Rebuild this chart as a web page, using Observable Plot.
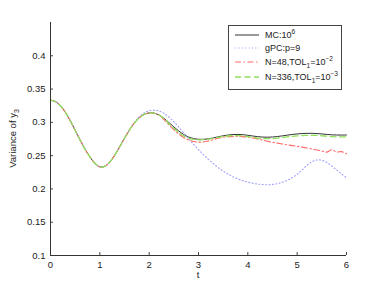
<!DOCTYPE html>
<html><head><meta charset="utf-8">
<script src="https://cdn.jsdelivr.net/npm/d3@7"></script>
<script src="https://cdn.jsdelivr.net/npm/@observablehq/plot@0.6"></script>
<style>body{margin:0;background:#fff} #chart svg{font-family:"Liberation Sans",Arial,sans-serif;overflow:visible}</style>
</head><body><div id="chart"></div>
<script>
const tValues = [0,0.1,0.2,0.3,0.4,0.5,0.6,0.7,0.8,0.9,1,1.1,1.2,1.3,1.4,1.5,1.6,1.7,1.8,1.9,2,2.1,2.2,2.3,2.4,2.5,2.6,2.7,2.8,2.9,3,3.1,3.2,3.3,3.4,3.5,3.6,3.7,3.8,3.9,4,4.1,4.2,4.3,4.4,4.5,4.6,4.7,4.8,4.9,5,5.1,5.2,5.3,5.4,5.5,5.6,5.7,5.8,5.9,6];
const mcValues = [0.3333,0.3312,0.3250,0.3152,0.3025,0.2882,0.2735,0.2598,0.2480,0.2385,0.2332,0.2340,0.2402,0.2505,0.2630,0.2762,0.2885,0.2990,0.3070,0.3120,0.3142,0.3138,0.3110,0.3060,0.2998,0.2932,0.2870,0.2818,0.2780,0.2757,0.2746,0.2745,0.2752,0.2766,0.2783,0.2798,0.2810,0.2817,0.2819,0.2815,0.2806,0.2795,0.2785,0.2779,0.2777,0.2780,0.2787,0.2797,0.2808,0.2818,0.2826,0.2832,0.2835,0.2835,0.2832,0.2826,0.2819,0.2813,0.2810,0.2809,0.2810];
const gpcValues = [0.3333,0.3312,0.3250,0.3152,0.3025,0.2882,0.2735,0.2598,0.2480,0.2385,0.2332,0.2340,0.2402,0.2505,0.2630,0.2762,0.2885,0.2995,0.3085,0.3142,0.3175,0.3183,0.3170,0.3135,0.3080,0.3008,0.2928,0.2842,0.2755,0.2670,0.2590,0.2515,0.2445,0.2380,0.2320,0.2268,0.2222,0.2182,0.2150,0.2123,0.2102,0.2085,0.2073,0.2066,0.2063,0.2068,0.2080,0.2100,0.2130,0.2170,0.2220,0.2285,0.2355,0.2408,0.2435,0.2430,0.2398,0.2345,0.2285,0.2225,0.2168];
const n48Values = [0.3333,0.3312,0.3250,0.3152,0.3025,0.2882,0.2735,0.2598,0.2480,0.2385,0.2332,0.2340,0.2402,0.2505,0.2630,0.2762,0.2885,0.2990,0.3070,0.3120,0.3142,0.3138,0.3110,0.3040,0.2965,0.2890,0.2825,0.2772,0.2735,0.2712,0.2703,0.2706,0.2720,0.2740,0.2760,0.2775,0.2785,0.2790,0.2790,0.2786,0.2778,0.2765,0.2750,0.2733,0.2716,0.2701,0.2688,0.2675,0.2663,0.2651,0.2640,0.2628,0.2615,0.2600,0.2585,0.2570,0.2553,0.2588,0.2555,0.2560,0.2528];
const n336Values = [0.3333,0.3312,0.3250,0.3152,0.3025,0.2882,0.2735,0.2598,0.2480,0.2385,0.2332,0.2340,0.2402,0.2505,0.2630,0.2762,0.2885,0.2990,0.3070,0.3120,0.3142,0.3138,0.3110,0.3060,0.2980,0.2910,0.2848,0.2798,0.2763,0.2745,0.2738,0.2740,0.2748,0.2760,0.2774,0.2786,0.2795,0.2800,0.2800,0.2795,0.2786,0.2774,0.2764,0.2757,0.2755,0.2757,0.2763,0.2772,0.2781,0.2790,0.2797,0.2802,0.2805,0.2805,0.2803,0.2798,0.2792,0.2787,0.2783,0.2782,0.2782];
const xTicks = [0,1,2,3,4,5,6];
const yTicks = [0.1,0.15,0.2,0.25,0.3,0.35,0.4];
const seriesNames = ["MC", "gPC", "N48", "N336"];

const seriesStyles = {
  MC:   {stroke: "#333333", dash: null,      width: 1},
  gPC:  {stroke: "#9d9dff", dash: "1,2.4",   width: 1.1},
  N48:  {stroke: "#ff6a6a", dash: "6,2.5,1.5,2.5", width: 1.1},
  N336: {stroke: "#8fe05a", dash: "6,3.5",   width: 1.3}
};
const seriesData = {MC: mcValues, gPC: gpcValues, N48: n48Values, N336: n336Values};
const rows = s => tValues.map((t, i) => ({t, v: seriesData[s][i]}));

const lineMarks = seriesNames.map(s => Plot.line(rows(s), {
  x: "t", y: "v", curve: "catmull-rom",
  stroke: seriesStyles[s].stroke, strokeWidth: seriesStyles[s].width,
  strokeDasharray: seriesStyles[s].dash
}));

const plot = Plot.plot({
  width: 382, height: 287,
  marginLeft: 50, marginRight: 36, marginTop: 22, marginBottom: 32,
  style: {fontSize: "9.5px", color: "#222", background: "#fff"},
  x: {domain: [0, 6], label: null},
  y: {domain: [0.1, 0.45], label: null},
  marks: [
    ...lineMarks,
    Plot.axisX(xTicks, {tickSize: -3, text: null, stroke: "#444"}),
    Plot.axisX(xTicks, {tickSize: 0, tickPadding: 6, tickFormat: d => String(d)}),
    Plot.axisY(yTicks, {tickSize: -3, text: null, stroke: "#444"}),
    Plot.axisY(yTicks, {tickSize: 0, tickPadding: 5, tickFormat: d => String(d)}),
    Plot.ruleY([0.1], {stroke: "#333"}),
    Plot.ruleX([0], {stroke: "#333"})
  ]
});
document.getElementById("chart").appendChild(plot);

const svg = d3.select(plot);
const sx = plot.scale("x"), sy = plot.scale("y");
// x label
svg.append("text").attr("x", (sx.apply(0) + sx.apply(6)) / 2).attr("y", 278)
  .attr("text-anchor", "middle").attr("font-size", 9.5).attr("fill", "#222").text("t");
// y label
const yl = svg.append("text")
  .attr("transform", `translate(16,${(sy.apply(0.1) + sy.apply(0.45)) / 2}) rotate(-90)`)
  .attr("text-anchor", "middle").attr("font-size", 9.5).attr("fill", "#222");
yl.append("tspan").text("Variance of y");
yl.append("tspan").attr("font-size", 7).attr("dy", 2.5).text("3");

// legend
const lg = svg.append("g").attr("text-anchor", "start");
lg.append("rect").attr("x", 228.5).attr("y", 25.5).attr("width", 113).attr("height", 64)
  .attr("fill", "#fff").attr("stroke", "#444").attr("stroke-width", 1);
const legendRows = [
  {s: "MC", y: 35, parts: [["MC:10", 0], ["6", -1]]},
  {s: "gPC", y: 48, parts: [["gPC:p=9", 0]]},
  {s: "N48", y: 62, parts: [["N=48,TOL", 0], ["1", 1], ["=10", 0], ["−2", -1]]},
  {s: "N336", y: 77, parts: [["N=336,TOL", 0], ["1", 1], ["=10", 0], ["−3", -1]]}
];
legendRows.forEach(r => {
  const st = seriesStyles[r.s];
  lg.append("line").attr("x1", 235).attr("x2", 259).attr("y1", r.y).attr("y2", r.y)
    .attr("stroke", st.stroke).attr("stroke-width", st.width)
    .attr("stroke-dasharray", st.dash);
  const tx = lg.append("text").attr("x", 265).attr("y", r.y + 3.2)
    .attr("text-anchor", "start").attr("font-size", 9).attr("fill", "#222");
  let shift = 0;
  r.parts.forEach(([txt, pos]) => {
    const target = pos === -1 ? -4 : pos === 1 ? 2.5 : 0;
    const ts = tx.append("tspan").attr("dy", target - shift).text(txt);
    if (pos !== 0) ts.attr("font-size", 6.5);
    shift = target;
  });
});
</script>
</body></html>
